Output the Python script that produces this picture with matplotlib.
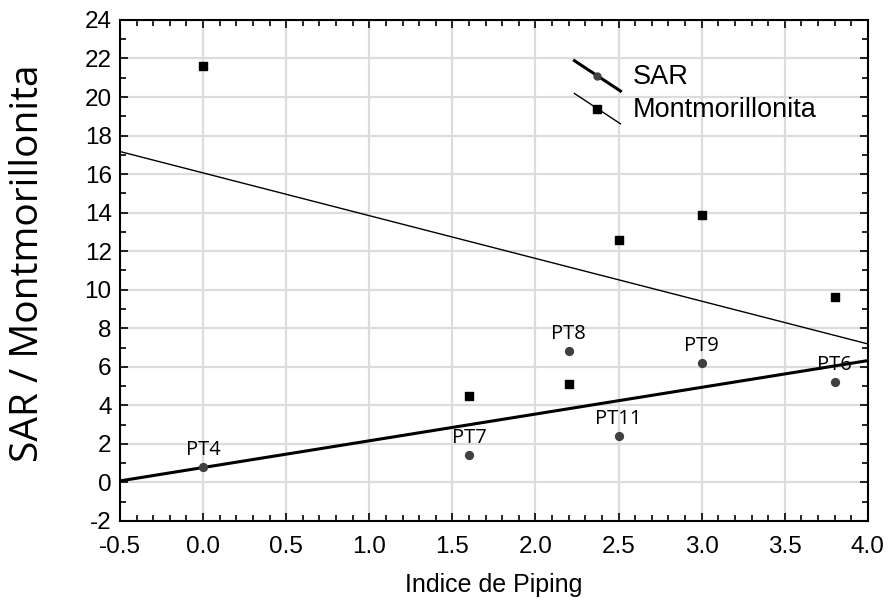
import numpy as np
import matplotlib
matplotlib.use('Agg')
import matplotlib.pyplot as plt
from matplotlib.lines import Line2D
from matplotlib.legend_handler import HandlerBase
from matplotlib.ticker import MultipleLocator

# dados
indice_piping = [0.0, 1.6, 2.2, 2.5, 3.0, 3.8]
sar = [0.8, 1.4, 6.8, 2.4, 6.2, 5.2]
montmorillonita = [21.6, 4.5, 5.1, 12.6, 13.9, 9.6]
pontos = ['PT4', 'PT7', 'PT8', 'PT11', 'PT9', 'PT6']

plt.rcParams['font.family'] = ['Liberation Sans', 'DejaVu Sans']
plt.rcParams['axes.unicode_minus'] = False


class DiagonalHandler(HandlerBase):
    # linha diagonal com marcador no meio, como na legenda original
    def create_artists(self, legend, orig_handle, xdescent, ydescent,
                       width, height, fontsize, trans):
        x0, x1 = -xdescent, -xdescent + width
        y0, y1 = -ydescent + height * 1.25, -ydescent - height * 0.35
        line = Line2D([x0, x1], [y0, y1], color='black',
                      lw=orig_handle.get_linewidth())
        mark = Line2D([(x0 + x1) / 2], [(y0 + y1) / 2], linestyle='none',
                      marker=orig_handle.get_marker(),
                      markersize=orig_handle.get_markersize(),
                      color=orig_handle.get_markerfacecolor())
        line.set_transform(trans)
        mark.set_transform(trans)
        return [line, mark]


fig = plt.figure(figsize=(8.92, 6.05), dpi=100)
ax = fig.add_axes([0.1345, 0.139, 0.8385, 0.828])

xs = np.array([-0.5, 4.0])

# SAR
ax.scatter(indice_piping, sar, marker='o', s=32, color='#404040', zorder=3)
a, b = np.polyfit(indice_piping, sar, 1)
ax.plot(xs, a * xs + b, color='black', lw=2.2, zorder=2)

# Montmorillonita
ax.scatter(indice_piping, montmorillonita, marker='s', s=40, color='black', zorder=3)
a2, b2 = np.polyfit(indice_piping, montmorillonita, 1)
ax.plot(xs, a2 * xs + b2, color='black', lw=1.0, zorder=2)

for px, py, nome in zip(indice_piping, sar, pontos):
    ax.annotate(nome, (px, py), xytext=(0, 5), textcoords='offset points',
                ha='center', va='bottom', fontsize=14.5, family='Open Sans')

ax.set_xlim(-0.5, 4.0)
ax.set_ylim(-2, 24)
ax.xaxis.set_major_locator(MultipleLocator(0.5))
ax.xaxis.set_minor_locator(MultipleLocator(0.1))
ax.yaxis.set_major_locator(MultipleLocator(2))
ax.yaxis.set_minor_locator(MultipleLocator(1))
ax.set_xticklabels([f'{v:.1f}' for v in ax.get_xticks()])
ax.tick_params(which='both', direction='in', top=True, right=True,
               labelsize=17.5, width=1.2)
ax.tick_params(which='major', length=6)
ax.tick_params(which='minor', length=4)
ax.tick_params(axis='x', pad=11)
ax.tick_params(axis='y', pad=6)
ax.grid(True, which='major', color='#dcdcdc', lw=1.6)
ax.set_axisbelow(True)
for s in ax.spines.values():
    s.set_linewidth(1.5)

ax.set_xlabel('Indice de Piping', fontsize=18, labelpad=11)
ax.set_ylabel('SAR / Montmorillonita', fontsize=28, family='Open Sans')
ax.yaxis.set_label_coords(-0.098, 0.515)

h_sar = Line2D([], [], color='black', lw=2.2, marker='o', markersize=5,
               markerfacecolor='#404040')
h_mont = Line2D([], [], color='black', lw=1.0, marker='s', markersize=6,
                markerfacecolor='black')
ax.legend([h_sar, h_mont], ['SAR', 'Montmorillonita'], loc='upper left',
          bbox_to_anchor=(0.575, 0.96), frameon=False, fontsize=19.5,
          handlelength=1.7, handletextpad=0.45, labelspacing=0.25,
          handler_map={Line2D: DiagonalHandler()})

plt.savefig('out.png', dpi=100)
plt.close()
